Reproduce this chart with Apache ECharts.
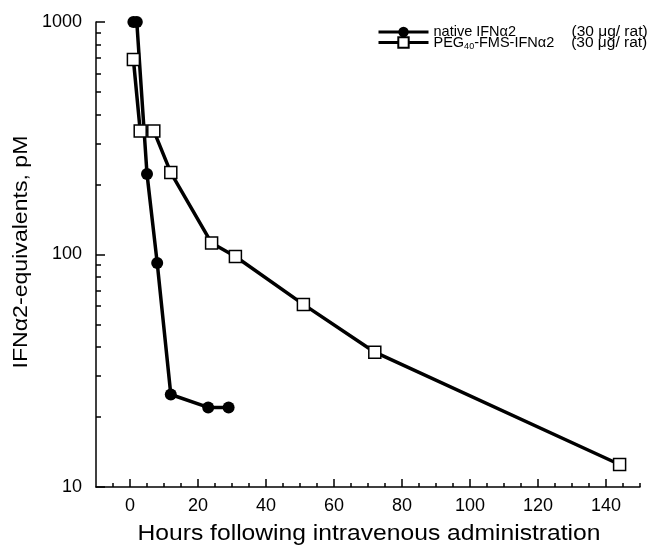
<!DOCTYPE html>
<html><head><meta charset="utf-8">
<script src="https://cdn.jsdelivr.net/npm/echarts@6/dist/echarts.min.js"></script>
<style>html,body{margin:0;padding:0;background:#fff}#c{width:657px;height:548px}</style>
</head><body><div id="c"></div>
<script>
// Data
const nativeHours = [1, 2, 5, 8, 12, 23, 29];
const nativeValues = [1000, 1000, 222, 92, 25, 22, 22];
const pegHours = [1, 3, 7, 12, 24, 31, 51, 72, 144];
const pegValues = [690, 340, 340, 225, 112, 98, 61, 38, 12.5];
const xMajorTicks = [0, 20, 40, 60, 80, 100, 120, 140];
const xMinorTicks = [-5, 5, 10, 15, 25, 30, 35, 45, 50, 55, 65, 70, 75, 85, 90, 95, 105, 110, 115, 125, 130, 135, 145, 150];
const yMajorTicks = [10, 100, 1000];
const yMinorTicks = [20, 30, 40, 50, 60, 70, 80, 90, 200, 300, 400, 500, 600, 700, 800, 900];
const seriesNames = ['native', 'peg'];
const xTitle = 'Hours following intravenous administration';
const yTitle = 'IFNα2-equivalents, pM';

const FONT = '"Liberation Sans", Arial, Helvetica, sans-serif';
const chart = echarts.init(document.getElementById('c'));
const axisLineStyle = {color: '#000', width: 1.5};
const LH = 18;
const LF = 14.5;
const legendText = {fontFamily: FONT, fontSize: LF, color: '#000', lineHeight: LH,
  rich: {
    n: {fontFamily: FONT, fontSize: LF, color: '#000', width: 138, lineHeight: LH},
    p: {fontFamily: FONT, fontSize: LF, color: '#000', lineHeight: LH},
    s: {fontFamily: FONT, fontSize: 9, color: '#000', lineHeight: 10, verticalAlign: 'bottom'},
    q: {fontFamily: FONT, fontSize: LF, color: '#000', width: 97, lineHeight: LH},
    d: {fontFamily: FONT, fontSize: 15.5, color: '#000', lineHeight: LH}
  }
};
const legendFormatter = function (name) {
  if (name === 'native') return '{n|native IFNα2}{d|(30 μg/ rat)}';
  return '{p|PEG}{s|40}{q|-FMS-IFNα2}{d|(30 μg/ rat)}';
};
function makeLegend(name, top) {
  return {
    orient: 'vertical', left: 377, top: top, itemGap: 0, itemWidth: 50, itemHeight: 13,
    padding: 0, data: [name], textStyle: legendText, formatter: legendFormatter,
    lineStyle: {width: 3}
  };
}
const option = {
  animation: false,
  backgroundColor: '#fff',
  grid: {left: 96, right: 17, top: 22, bottom: 61, containLabel: false, outerBoundsMode: 'none'},
  legend: [makeLegend(seriesNames[0], 23), makeLegend(seriesNames[1], 33.5)],
  xAxis: [{
    type: 'value', min: -10, max: 150,
    splitLine: {show: false},
    axisLine: {onZero: false, lineStyle: axisLineStyle},
    axisTick: {inside: true, length: 8, lineStyle: {color: '#000', width: 1.5}, customValues: xMajorTicks},
    axisLabel: {fontFamily: FONT, fontSize: 18, color: '#000', margin: 10, customValues: xMajorTicks}
  }, {
    type: 'value', min: -10, max: 150, position: 'bottom', gridIndex: 0,
    splitLine: {show: false},
    axisLine: {show: false, onZero: false},
    axisTick: {inside: true, length: 4, lineStyle: {color: '#000', width: 1.5}, customValues: xMinorTicks},
    axisLabel: {show: false}
  }],
  yAxis: [{
    type: 'log', logBase: 10, min: 10, max: 1000,
    splitLine: {show: false},
    axisLine: {onZero: false, lineStyle: axisLineStyle},
    axisTick: {inside: true, length: 9, lineStyle: {color: '#000', width: 1.5}, customValues: yMajorTicks},
    axisLabel: {fontFamily: FONT, fontSize: 18, color: '#000', margin: 14, customValues: yMajorTicks,
      formatter: function (v) { return String(Math.round(v)); }}
  }, {
    type: 'log', logBase: 10, min: 10, max: 1000, position: 'left', gridIndex: 0,
    splitLine: {show: false},
    axisLine: {show: false, onZero: false},
    axisTick: {inside: true, length: 5, lineStyle: {color: '#000', width: 1.5}, customValues: yMinorTicks},
    axisLabel: {show: false}
  }],
  graphic: [{
    type: 'text', x: 21, y: 252, rotation: Math.PI / 2, scaleX: 1.1,
    style: {text: yTitle, fontFamily: FONT, fontSize: 21, fill: '#000', align: 'center', verticalAlign: 'middle'}
  }, {
    type: 'text', x: 369, y: 534, scaleX: 1.12,
    style: {text: xTitle, fontFamily: FONT, fontSize: 22, fill: '#000', align: 'center', verticalAlign: 'middle'}
  }],
  series: [{
    name: 'native', type: 'line', clip: false, xAxisIndex: 0, yAxisIndex: 0,
    data: nativeHours.map((h, i) => [h, nativeValues[i]]),
    symbol: 'circle', symbolSize: 12,
    lineStyle: {color: '#000', width: 3.5},
    itemStyle: {color: '#000', borderColor: '#000', borderWidth: 0}
  }, {
    name: 'peg', type: 'line', clip: false, xAxisIndex: 0, yAxisIndex: 0,
    data: pegHours.map((h, i) => [h, pegValues[i]]),
    symbol: 'rect', symbolSize: 12,
    lineStyle: {color: '#000', width: 3.5},
    itemStyle: {color: '#fff', borderColor: '#000', borderWidth: 1.5}
  }]
};
chart.setOption(option);
</script></body></html>
